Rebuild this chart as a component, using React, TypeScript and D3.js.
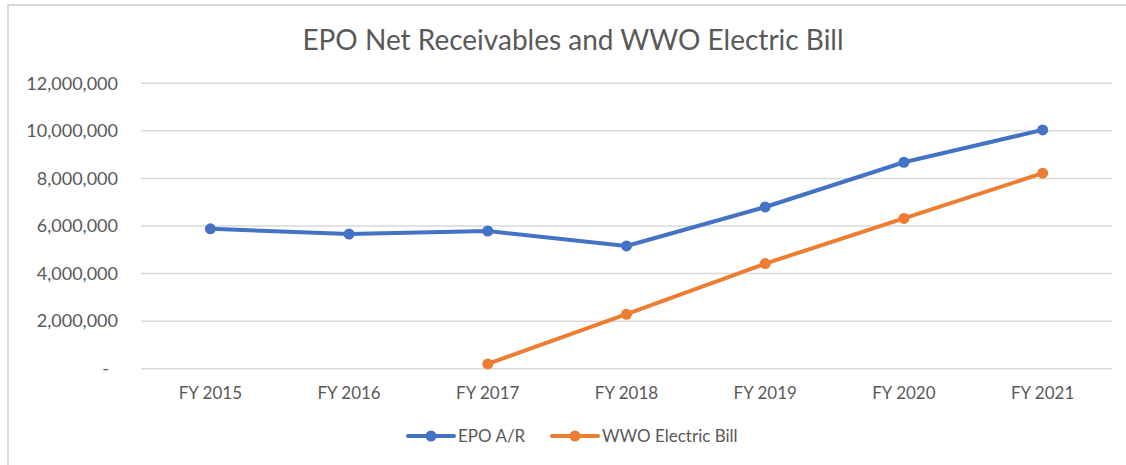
import React from 'react';
import * as d3 from 'd3';

const categories = ['FY 2015', 'FY 2016', 'FY 2017', 'FY 2018', 'FY 2019', 'FY 2020', 'FY 2021'];
const epoAR = [5880000, 5660000, 5790000, 5160000, 6800000, 8680000, 10040000];
const wwoElectric: (number | null)[] = [null, null, 200000, 2290000, 4420000, 6320000, 8220000];
const yTicks = [0, 2000000, 4000000, 6000000, 8000000, 10000000, 12000000];

const W = 1126;
const H = 465;
const FONT = 'Lato, "Open Sans", sans-serif';
const TEXT = '#595959';
const BLUE = '#4472C4';
const ORANGE = '#ED7D31';

const App: React.FC = () => {
    const x = d3.scalePoint<string>().domain(categories).range([141, 1112]).padding(0.5);
    const y = d3.scaleLinear().domain([0, 12000000]).range([368.7, 83.3]);
    const fmt = d3.format(',');

    const line = d3.line<number | null>()
        .defined(d => d != null)
        .x((_, i) => x(categories[i]) as number)
        .y(d => y(d as number));

    const series = [
        { name: 'EPO A/R', values: epoAR as (number | null)[], color: BLUE },
        { name: 'WWO Electric Bill', values: wwoElectric, color: ORANGE },
    ];

    // legend positions
    const legend = [
        { x0: 408, color: BLUE, name: 'EPO A/R' },
        { x0: 552, color: ORANGE, name: 'WWO Electric Bill' },
    ];

    return (
        <div style={{ position: 'absolute', left: 0, top: 0 }}>
            <svg width={W} height={H} style={{ display: 'block', fontFamily: FONT }}>
                <rect x={0} y={0} width={W} height={H} fill="#fff" />
                {/* chart frame */}
                <line x1={8} x2={W} y1={5} y2={5} stroke="#d9d9d9" strokeWidth={2} />
                <line x1={8} x2={8} y1={4} y2={H} stroke="#d9d9d9" strokeWidth={2} />

                <text x={573} y={50} textAnchor="middle" fontSize={28} fill={TEXT}>
                    EPO Net Receivables and WWO Electric Bill
                </text>

                {/* grid + y labels */}
                {yTicks.map(t => (
                    <g key={t}>
                        <line x1={141} x2={1112} y1={y(t)} y2={y(t)} stroke="#d9d9d9" strokeWidth={1.5} />
                        <text
                            x={t === 0 ? 109 : 118}
                            y={y(t)}
                            dy="0.35em"
                            textAnchor="end"
                            fontSize={18}
                            fill={TEXT}
                        >
                            {t === 0 ? '-' : fmt(t)}
                        </text>
                    </g>
                ))}

                {/* x labels */}
                {categories.map(c => (
                    <text key={c} x={x(c)} y={393} dy="0.35em" textAnchor="middle" fontSize={17} fill={TEXT}>
                        {c}
                    </text>
                ))}

                {/* lines */}
                {series.map(s => (
                    <g key={s.name}>
                        <path d={line(s.values) || ''} fill="none" stroke={s.color} strokeWidth={4} strokeLinejoin="round" strokeLinecap="round" />
                        {s.values.map((v, i) =>
                            v == null ? null : (
                                <circle key={i} cx={x(categories[i])} cy={y(v)} r={5.5} fill={s.color} />
                            )
                        )}
                    </g>
                ))}

                {/* legend */}
                {legend.map(l => (
                    <g key={l.name}>
                        <line x1={l.x0} x2={l.x0 + 46} y1={436} y2={436} stroke={l.color} strokeWidth={4} strokeLinecap="round" />
                        <circle cx={l.x0 + 23} cy={436} r={5.5} fill={l.color} />
                        <text x={l.x0 + 50} y={436} dy="0.35em" fontSize={17} fill={TEXT}>
                            {l.name}
                        </text>
                    </g>
                ))}
            </svg>
        </div>
    );
};

export default App;
